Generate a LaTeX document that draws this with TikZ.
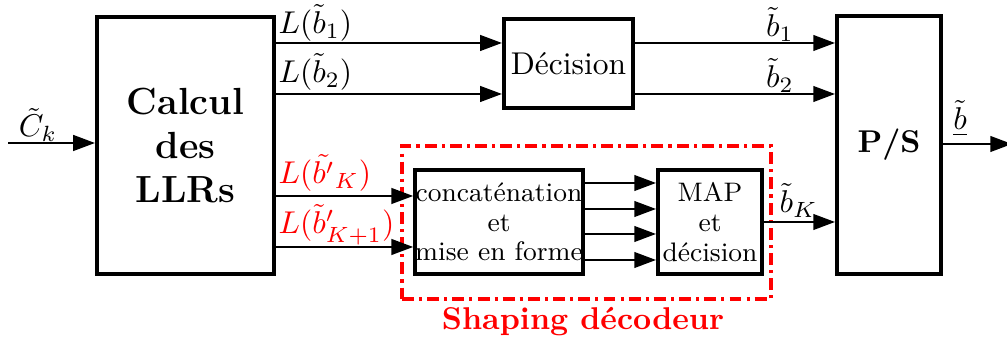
\documentclass[tikz,border=0pt]{standalone}
\usetikzlibrary{arrows.meta}
\begin{document}
\begin{tikzpicture}[x=0.3175pt,y=-0.3175pt,
  blk/.style={draw,line width=1.3pt,inner sep=0pt,align=center},
  conn/.style={line width=0.6pt,-{Triangle[length=6.9pt,width=5pt]}},
  lab/.style={inner sep=0pt},
  small/.style={font=\fontsize{8.5}{9.4}\selectfont}]
\useasboundingbox (0,0) rectangle (1007,341);
% blocks
\node[blk,minimum width=56.2pt,minimum height=81.6pt,font=\large\bfseries] (calc) at (185.5,145.5) {Calcul\\des\\LLRs};
\node[blk,minimum width=41pt,minimum height=28.3pt] (dec) at (568.5,63.5) {\raisebox{-1.8pt}{D\'ecision}};
\node[blk,minimum width=33pt,minimum height=81.9pt,font=\bfseries] (ps) at (889,145) {\raisebox{1.2pt}{P/S}};
\node[blk,small,minimum width=52.7pt,minimum height=33pt] (conc) at (499,222) {concat\'enation\\et\\mise en forme};
\node[blk,small,minimum width=33pt,minimum height=33pt] (map) at (710,222) {MAP\\et\\d\'ecision};
\node[draw=red,line width=1.3pt,dash pattern=on 3.8pt off 1.6pt on 1pt off 1.6pt,minimum width=117.2pt,minimum height=48.6pt,inner sep=0pt] (shp) at (586.5,222.5) {};
\node[lab,text=red,font=\bfseries,anchor=base] (shplab) at (583,330) {Shaping d\'ecodeur};
% helper coordinates
\coordinate (cin) at (8,143);
\coordinate (bout) at (1012,144);
\coordinate (y1) at (0,43);
\coordinate (y2) at (0,94);
\coordinate (yk) at (0,196);
\coordinate (yk1) at (0,247);
\coordinate (yK) at (0,222);
\coordinate (m1) at (0,183);
\coordinate (m2) at (0,209);
\coordinate (m3) at (0,234);
\coordinate (m4) at (0,260);
% connectors
\draw[conn] (cin) -- (calc.west |- cin);
\draw[conn] (calc.east |- y1) -- (dec.west |- y1);
\draw[conn] (calc.east |- y2) -- (dec.west |- y2);
\draw[conn] (dec.east |- y1) -- (ps.west |- y1);
\draw[conn] (dec.east |- y2) -- (ps.west |- y2);
\draw[conn] (calc.east |- yk) -- (conc.west |- yk);
\draw[conn] (calc.east |- yk1) -- (conc.west |- yk1);
\draw[conn] (conc.east |- m1) -- (map.west |- m1);
\draw[conn] (conc.east |- m2) -- (map.west |- m2);
\draw[conn] (conc.east |- m3) -- (map.west |- m3);
\draw[conn] (conc.east |- m4) -- (map.west |- m4);
\draw[conn] (map.east |- yK) -- (ps.west |- yK);
\draw[conn] (ps.east |- bout) -- (bout);
% labels
\node[lab,anchor=base] (lck) at (38,137) {$\tilde{C}_k$};
\node[lab,anchor=base west] (l1) at (278,34) {$L(\tilde{b}_1)$};
\node[lab,anchor=base west] (l2) at (278,83) {$L(\tilde{b}_2)$};
\node[lab,anchor=base west,text=red] (lk) at (278,184) {$L(\tilde{b'}_K)$};
\node[lab,anchor=base west,text=red] (lk1) at (278,234) {$L(\tilde{b}'_{K+1})$};
\node[lab,anchor=base] (o1) at (780,37) {$\tilde{b}_1$};
\node[lab,anchor=base] (o2) at (780,88) {$\tilde{b}_2$};
\node[lab,anchor=base west] (oK) at (779,213) {$\tilde{b}_K$};
\node[lab,anchor=base] (ob) at (960,130) {$\underline{\tilde{b}}$};
\end{tikzpicture}
\end{document}
